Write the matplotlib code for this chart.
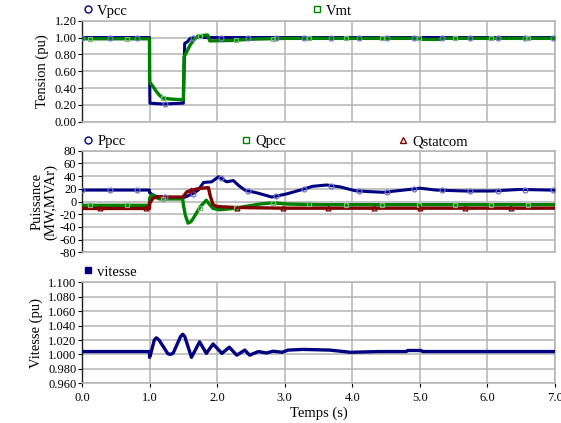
import numpy as np
import matplotlib
matplotlib.use("Agg")
import matplotlib.pyplot as plt
from matplotlib.lines import Line2D
from matplotlib.ticker import FormatStrFormatter, MultipleLocator

plt.rcParams['font.family'] = ['Liberation Serif', 'DejaVu Serif']

# ---------------- data ----------------
t_vpcc = [0, 0.999, 1.0, 1.005, 1.2, 1.49, 1.5, 1.52, 1.56, 1.6, 1.7, 7.0]
vpcc = [1.0, 1.0, 0.65, 0.22, 0.21, 0.22, 0.22, 0.93, 0.95, 0.99, 1.0, 1.0]

t_vmt = [0, 0.999, 1.0, 1.05, 1.1, 1.15, 1.2, 1.3, 1.49, 1.5, 1.51, 1.55, 1.6, 1.65,
         1.72, 1.86, 1.89, 2.2, 2.5, 3.0, 4.98, 5.0, 5.3, 5.32, 7.0]
vmt = [0.985, 0.985, 0.47, 0.42, 0.36, 0.31, 0.28, 0.27, 0.26, 0.26, 0.77, 0.83, 0.91,
       0.97, 1.02, 1.03, 0.96, 0.965, 0.98, 0.99, 0.99, 0.978, 0.978, 0.99, 0.99]

t_ppcc = [0, 0.999, 1.0, 1.05, 1.1, 1.2, 1.45, 1.5, 1.55, 1.65, 1.72, 1.8, 1.92, 2.02,
          2.14, 2.24, 2.32, 2.41, 2.61, 2.81, 3.03, 3.23, 3.42, 3.62, 3.82, 4.04, 4.26,
          4.46, 4.85, 5.0, 5.24, 5.67, 6.07, 6.48, 6.92, 7.0]
ppcc = [18, 18, 14, 10, 8, 7, 6, 6, 8, 13, 18, 30, 31, 39, 31, 33, 25, 18, 13, 7, 12,
        18, 24, 26, 23, 17, 15.5, 14.5, 19, 21, 18, 16.5, 16.5, 19, 18, 18]

t_qpcc = [0, 0.999, 1.0, 1.03, 1.06, 1.1, 1.15, 1.3, 1.49, 1.5, 1.53, 1.57, 1.61, 1.65,
          1.75, 1.84, 1.89, 1.94, 2.04, 2.24, 2.63, 2.83, 3.03, 3.5, 7.0]
qpcc = [-6, -6, 5, 10, 10, 6, 4, 4, 4, -5, -22, -34, -32, -26, -8, 2, -5, -11, -13, -11,
        -4, -2, -4, -5, -5]

t_qstat = [0, 0.999, 1.0, 1.05, 1.1, 1.49, 1.5, 1.55, 1.6, 1.71, 1.87, 1.9, 1.94, 2.0,
           2.3, 3.0, 7.0]
qstat = [-11, -11, -3, 5, 7, 7, 8, 15, 17, 20, 22, 8, -5, -8, -9.5, -10.5, -10.5]

t_vit = [0, 0.999, 1.0, 1.02, 1.07, 1.10, 1.14, 1.27, 1.31, 1.35, 1.46, 1.49, 1.52,
         1.62, 1.74, 1.84, 1.94, 2.07, 2.18, 2.29, 2.41, 2.48, 2.61, 2.73, 2.83, 2.96,
         3.05, 3.27, 3.67, 3.97, 4.4, 4.8, 4.82, 5.02, 5.04, 7.0]
vit = [1.004, 1.004, 0.996, 1.002, 1.020, 1.023, 1.020, 1.001, 1.000, 1.002, 1.025,
       1.028, 1.025, 0.996, 1.0175, 1.0015, 1.0145, 1.0015, 1.010, 0.999, 1.006, 0.999,
       1.004, 1.002, 1.0045, 1.003, 1.006, 1.007, 1.006, 1.003, 1.004, 1.004, 1.0055,
       1.0055, 1.004, 1.004]

x_ticks = [0.0, 1.0, 2.0, 3.0, 4.0, 5.0, 6.0, 7.0]

# marker sample times (decorative markers along each series)
mk_vpcc = np.arange(0.0, 7.0, 0.41)
mk_vmt = np.arange(0.12, 7.0, 0.54)
mk_ppcc = np.arange(0.0, 7.0, 0.41)
mk_qpcc = np.arange(0.12, 7.0, 0.54)
mk_qstat = np.arange(0.27, 7.0, 0.675)

NAVY = '#000080'
GREEN = '#008000'
RED = '#800000'
GRID = '#b4b4b4'

fig = plt.figure(figsize=(5.61, 4.23), dpi=100)
L, R = 82 / 561, 555 / 561
def axrect(top_px, bot_px):
    return [L, 1 - bot_px / 423, R - L, (bot_px - top_px) / 423]

ax1 = fig.add_axes(axrect(20.7, 121.7))
ax2 = fig.add_axes(axrect(150.7, 252.3))
ax3 = fig.add_axes(axrect(282.3, 383.3))

def style(ax, ylo, yhi, ystep, fmt, show_x):
    ax.set_xlim(0, 7)
    ax.set_ylim(ylo, yhi)
    ax.set_xticks(x_ticks)
    ax.yaxis.set_major_locator(MultipleLocator(ystep))
    ax.yaxis.set_major_formatter(FormatStrFormatter(fmt))
    ax.grid(True, color=GRID, lw=1.1)
    ax.set_axisbelow(True)
    for s in ['top', 'right', 'bottom']:
        ax.spines[s].set_color(GRID)
        ax.spines[s].set_linewidth(1.1)
    ax.spines['left'].set_color('#202020')
    ax.spines['left'].set_linewidth(1.0)
    ax.tick_params(axis='y', direction='out', length=3, width=0.8, labelsize=9, pad=1)
    ax.tick_params(axis='x', direction='out', length=3 if show_x else 0, width=0.8,
                   labelsize=9, labelbottom=show_x, pad=3)
    if show_x:
        ax.xaxis.set_major_formatter(FormatStrFormatter('%.1f'))

def series(ax, t, v, color, lw, mk_t=None, marker=None, mcolor=None):
    ax.plot(t, v, color=color, lw=lw, solid_joinstyle='round', zorder=3)
    if mk_t is not None:
        ax.plot(mk_t, np.interp(mk_t, t, v), ls='none', marker=marker, ms=3.5,
                mfc='none', mec=mcolor, mew=0.9, zorder=4)

# top
series(ax1, t_vpcc, vpcc, NAVY, 2.2, mk_vpcc, 'o', '#7070d0')
series(ax1, t_vmt, vmt, GREEN, 2.4, mk_vmt, 's', '#70c070')
style(ax1, 0.0, 1.2, 0.2, '%.2f', False)
ax1.set_ylabel('Tension (pu)', fontsize=10.5, labelpad=4)

# middle
series(ax2, t_ppcc, ppcc, NAVY, 2.2, mk_ppcc, 'o', '#7070d0')
series(ax2, t_qpcc, qpcc, GREEN, 2.4, mk_qpcc, 's', '#70c070')
series(ax2, t_qstat, qstat, RED, 2.4, mk_qstat, '^', RED)
style(ax2, -80, 80, 20, '%d', False)
ax2.set_ylabel('Puissance\n(MW,MVAr)', fontsize=10.5, labelpad=2, linespacing=1.0)

# bottom
series(ax3, t_vit, vit, NAVY, 2.4)
style(ax3, 0.96, 1.10, 0.02, '%.3f', True)
ax3.set_ylabel('Vitesse (pu)', fontsize=10.5, labelpad=4)
ax3.set_xlabel('Temps (s)', fontsize=10.5, labelpad=2)

# legends
def leg(label, marker, color, x_px, y_px, filled=False):
    h = Line2D([], [], ls='none', marker=marker, ms=5, mec=color,
               mfc=color if filled else 'none', mew=1.0)
    lg = fig.legend([h], [label], loc='center left',
                    bbox_to_anchor=((x_px) / 561, 1 - y_px / 423),
                    frameon=False, fontsize=10.5, handlelength=0.6,
                    handletextpad=0.3, borderpad=0, borderaxespad=0)
    return lg

leg('Vpcc', 'o', NAVY, 84, 11)
leg('Vmt', 's', GREEN, 313, 11)
leg('Ppcc', 'o', NAVY, 84, 141.5)
leg('Qpcc', 's', GREEN, 242, 141.5)
leg('Qstatcom', '^', RED, 399, 141.5)
leg('vitesse', 's', NAVY, 84, 272, filled=True)

fig.savefig('out.png', dpi=100)
